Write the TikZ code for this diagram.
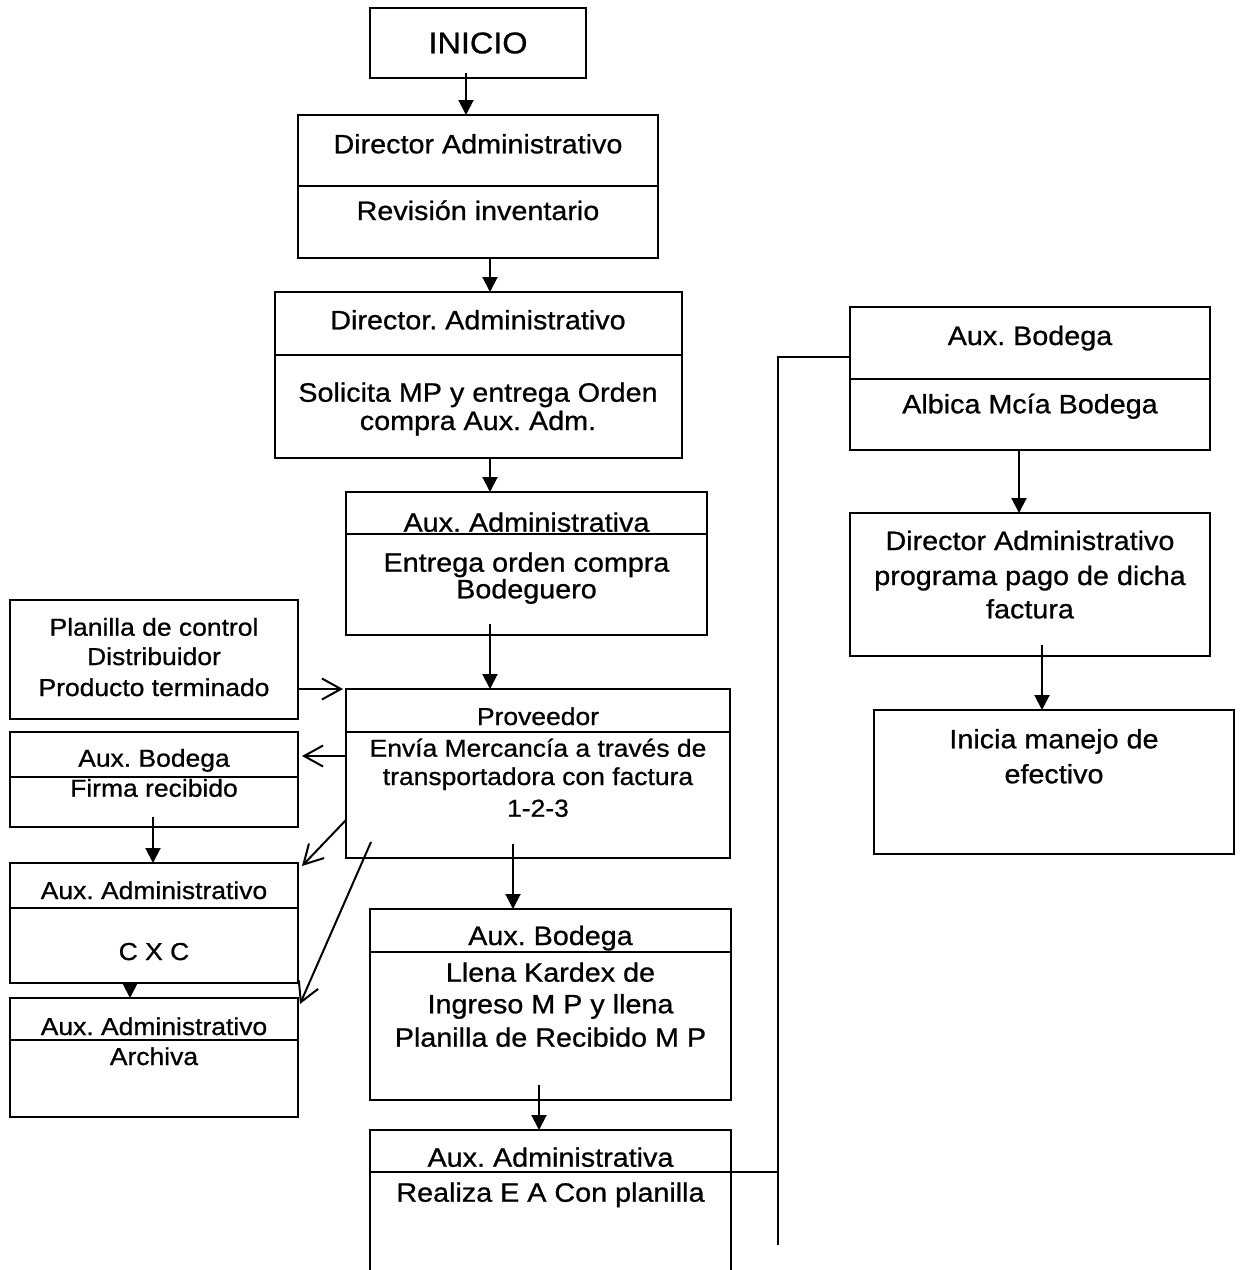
\documentclass[tikz,border=0pt]{standalone}
\usepackage{fontspec}
\setmainfont{Liberation Sans}[FakeStretch=1.08,FakeBold=0.8]
\usetikzlibrary{arrows.meta,calc}
\tikzset{
  box/.style={draw, line width=2pt, inner sep=0pt, outer sep=0pt, anchor=north west},
  txt/.style={inner sep=0pt, anchor=base, font=\fontsize{26.6}{31}\selectfont},
  stxt/.style={inner sep=0pt, anchor=base, font=\fontsize{24.5}{29}\selectfont},
  farr/.style={line width=2pt, -{Triangle[width=15pt,length=15pt]}},
  oarr/.style={line width=2pt, -{Straight Barb[length=19pt,width=21pt,line width=2pt]}},
  ln/.style={line width=2pt}
}
\newcommand{\boxat}[5]{\node[box, minimum width=#4pt-#2pt, minimum height=#5pt-#3pt] (#1) at (#2,#3) {};}
\newcommand{\divat}[2]{\draw[ln] (#1.west |- 0,#2) -- (#1.east |- 0,#2);}
\frenchspacing
\begin{document}
\begin{tikzpicture}[x=1pt,y=-1pt]
\useasboundingbox (0,0) rectangle (1242,1270);
\clip (0,0) rectangle (1242,1270);
% boxes
\boxat{ini}{370}{8}{586}{78}
\boxat{b1}{298}{115}{658}{258}
\boxat{b2}{275}{292}{682}{458}
\boxat{b3}{346}{492}{707}{635}
\boxat{prov}{346}{689}{730}{858}
\boxat{plan}{10}{600}{298}{719}
\boxat{lbod}{10}{732}{298}{827}
\boxat{cxc}{10}{863}{298}{983}
\boxat{arch}{10}{998}{298}{1117}
\boxat{mbod}{370}{909}{731}{1100}
\boxat{madm}{370}{1130}{731}{1300}
\boxat{rbod}{850}{307}{1210}{450}
\boxat{rdir}{850}{513}{1210}{656}
\boxat{rini}{874}{710}{1234}{854}
% dividers
\divat{b1}{186}
\divat{b2}{355}
\divat{b3}{534}
\divat{prov}{732}
\divat{lbod}{777}
\divat{cxc}{908}
\divat{arch}{1040}
\divat{mbod}{952}
\divat{madm}{1172}
\divat{rbod}{379}
% texts
\node[inner sep=0pt, font=\fontsize{30}{35}\selectfont] (tini) at (478,43) {INICIO};
\node[txt] (t1a) at (478,153.3) {Director Administrativo};
\node[txt] (t1b) at (478,220) {Revisión inventario};
\node[txt] (t2a) at (478,329.3) {Director. Administrativo};
\node[txt] (t2b) at (478,401.7) {Solicita MP y entrega Orden};
\node[txt] (t2c) at (478,430) {compra Aux. Adm.};
\node[txt] (t3a) at (526.5,531.7) {Aux. Administrativa};
\node[txt] (t3b) at (526.5,571.7) {Entrega orden compra};
\node[txt] (t3c) at (526.5,598.3) {Bodeguero};
\node[stxt] (tpa) at (538,725) {Proveedor};
\node[stxt] (tpb) at (538,756.7) {Envía Mercancía a través de};
\node[stxt] (tpc) at (538,785) {transportadora con factura};
\node[stxt] (tpd) at (538,816.7) {1-2-3};
\node[stxt] (tla) at (154,635.7) {Planilla de control};
\node[stxt] (tlb) at (154,665) {Distribuidor};
\node[stxt] (tlc) at (154,696) {Producto terminado};
\node[stxt] (tba) at (154,766.7) {Aux. Bodega};
\node[stxt] (tbb) at (154,796.7) {Firma recibido};
\node[stxt] (tca) at (154,899) {Aux. Administrativo};
\node[stxt] (tcb) at (154,960) {C X C};
\node[stxt] (taa) at (154,1035) {Aux. Administrativo};
\node[stxt] (tab) at (154,1065) {Archiva};
\node[txt] (tma) at (550.5,945) {Aux. Bodega};
\node[txt] (tmb) at (550.5,981.7) {Llena Kardex de};
\node[txt] (tmc) at (550.5,1013.3) {Ingreso M P y llena};
\node[txt] (tmd) at (550.5,1046.7) {Planilla de Recibido M P};
\node[txt] (tna) at (550.5,1166.7) {Aux. Administrativa};
\node[txt] (tnb) at (550.5,1201.7) {Realiza E A Con planilla};
\node[txt] (tra) at (1030,345) {Aux. Bodega};
\node[txt] (trb) at (1030,413.3) {Albica Mcía Bodega};
\node[txt] (tda) at (1030,550) {Director Administrativo};
\node[txt] (tdb) at (1030,585) {programa pago de dicha};
\node[txt] (tdc) at (1030,618.3) {factura};
\node[txt] (tia) at (1054,748.3) {Inicia manejo de};
\node[txt] (tib) at (1054,783.3) {efectivo};
% connectors
\draw[farr] ($(ini.south -| 466,0)+(0,-5)$) -- (b1.north -| 466,0);
\draw[farr] (b1.south -| 490,0) -- (b2.north -| 490,0);
\draw[farr] (b2.south -| 490,0) -- (b3.north -| 490,0);
\draw[farr] ($(b3.south -| 490,0)+(0,-11)$) -- (prov.north -| 490,0);
\draw[oarr] (plan.east |- prov.north) -- ($(prov.north west)+(-3,0)$);
\draw[oarr] (prov.west |- 0,756) -- ($(lbod.east |- 0,756)+(4,0)$);
\draw[oarr] (prov.west |- 0,820) -- ($(cxc.north east)+(4,3)$);
\draw[oarr] ($(prov.south west)+(25,-16)$) -- ($(arch.north east)+(2,6)$);
\draw[farr] ($(lbod.south -| 153,0)+(0,-10)$) -- (cxc.north -| 153,0);
\draw[farr] (cxc.south -| 130,0) -- (arch.north -| 130,0);
\draw[farr] ($(prov.south -| 513,0)+(0,-14)$) -- (mbod.north -| 513,0);
\draw[farr] ($(mbod.south -| 539,0)+(0,-15)$) -- (madm.north -| 539,0);
\coordinate (vtop) at (778,357);
\coordinate (vbot) at (778,1245);
\draw[ln] (rbod.west |- vtop) -- (vtop) -- (vbot);
\draw[ln] (madm.east |- 0,1172) -- (vtop |- 0,1172);
\draw[farr] (rbod.south -| 1019,0) -- (rdir.north -| 1019,0);
\draw[farr] ($(rdir.south -| 1042,0)+(0,-11)$) -- (rini.north -| 1042,0);
\end{tikzpicture}
\end{document}
